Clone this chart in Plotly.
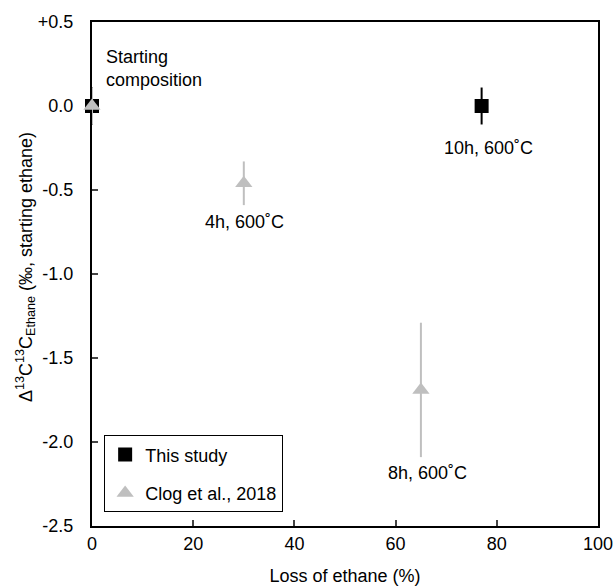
import plotly.graph_objects as go

# Data
this_x = [0, 77]
this_y = [0.0, 0.0]
this_err = [0.11, 0.11]

clog_x = [0, 30, 65]
clog_y = [0.0, -0.46, -1.69]
clog_err = [0.11, 0.13, 0.40]

ytick_vals = [0.5, 0.0, -0.5, -1.0, -1.5, -2.0, -2.5]
ytick_text = ["+0.5", "0.0", "-0.5", "-1.0", "-1.5", "-2.0", "-2.5"]
xtick_vals = [0, 20, 40, 60, 80, 100]

labels = [
    (0, 0.0, "Starting<br>composition"),
    (77, 0.0, "10h, 600˚C"),
    (30, -0.46, "4h, 600˚C"),
    (65, -1.69, "8h, 600˚C"),
]
ytitle = "Δ<sup>13</sup>C<sup>13</sup>C<sub>Ethane</sub> (‰, starting ethane)"
xtitle = "Loss of ethane (%)"

FONT = "Liberation Sans, Arial, sans-serif"
FS = 18
GREY = "#BFBFBF"

fig = go.Figure()
fig.add_trace(go.Scatter(
    x=this_x, y=this_y, mode="markers", name="This study",
    legendgroup="a",
    marker=dict(symbol="square", size=14, color="black"),
    error_y=dict(type="data", array=this_err, color="black", thickness=2, width=0),
    cliponaxis=False,
))
fig.add_trace(go.Scatter(
    x=clog_x, y=clog_y, mode="markers", name="Clog et al., 2018",
    legendgroup="b",
    marker=dict(symbol="triangle-up", size=15, color=GREY),
    error_y=dict(type="data", array=clog_err, color=GREY, thickness=2, width=0),
    cliponaxis=False,
))

# annotations
fig.add_annotation(x=labels[0][0], y=labels[0][1], text=labels[0][2], showarrow=False,
                   xanchor="left", yanchor="middle", align="left", xshift=12, yshift=38,
                   font=dict(size=FS, color="black", family=FONT))
fig.add_annotation(x=labels[1][0], y=labels[1][1], text=labels[1][2], showarrow=False,
                   xanchor="center", yanchor="middle", xshift=7, yshift=-42,
                   font=dict(size=FS, color="black", family=FONT))
fig.add_annotation(x=labels[2][0], y=labels[2][1], text=labels[2][2], showarrow=False,
                   xanchor="center", yanchor="middle", xshift=1, yshift=-39,
                   font=dict(size=FS, color="black", family=FONT))
fig.add_annotation(x=labels[3][0], y=labels[3][1], text=labels[3][2], showarrow=False,
                   xanchor="center", yanchor="middle", xshift=7, yshift=-83,
                   font=dict(size=FS, color="black", family=FONT))
# y-axis title
fig.add_annotation(x=0, y=0.5, xref="paper", yref="paper", text=ytitle, showarrow=False,
                   textangle=-90, xanchor="center", yanchor="middle", xshift=-67, yshift=7,
                   font=dict(size=FS, color="black", family=FONT))

fig.update_layout(
    width=616, height=587,
    margin=dict(l=92, r=18, t=22, b=61, autoexpand=False),
    plot_bgcolor="white", paper_bgcolor="white",
    font=dict(family=FONT, size=FS, color="black"),
    showlegend=True,
    legend=dict(
        x=0.024, y=0.18, xanchor="left", yanchor="top",
        bgcolor="white", bordercolor="black", borderwidth=1,
        traceorder="grouped", tracegroupgap=12,
        font=dict(size=FS, family=FONT),
        itemwidth=30,
    ),
    xaxis=dict(
        range=[0, 100], tickvals=xtick_vals, ticks="inside", ticklen=6, tickwidth=2,
        showline=True, linecolor="black", linewidth=2, mirror=True,
        showgrid=False, zeroline=False, layer="below traces", automargin=False,
        title=dict(text=xtitle, font=dict(size=FS), standoff=17),
        tickfont=dict(size=FS),
    ),
    yaxis=dict(
        range=[-2.5, 0.5], tickvals=ytick_vals, ticktext=ytick_text,
        ticks="inside", ticklen=6, tickwidth=2,
        showline=True, linecolor="black", linewidth=2, mirror=True,
        showgrid=False, zeroline=False, layer="below traces", automargin=False,
        tickfont=dict(size=FS),
        ticklabelstandoff=13,
    ),
)

fig.write_html("out.html")
